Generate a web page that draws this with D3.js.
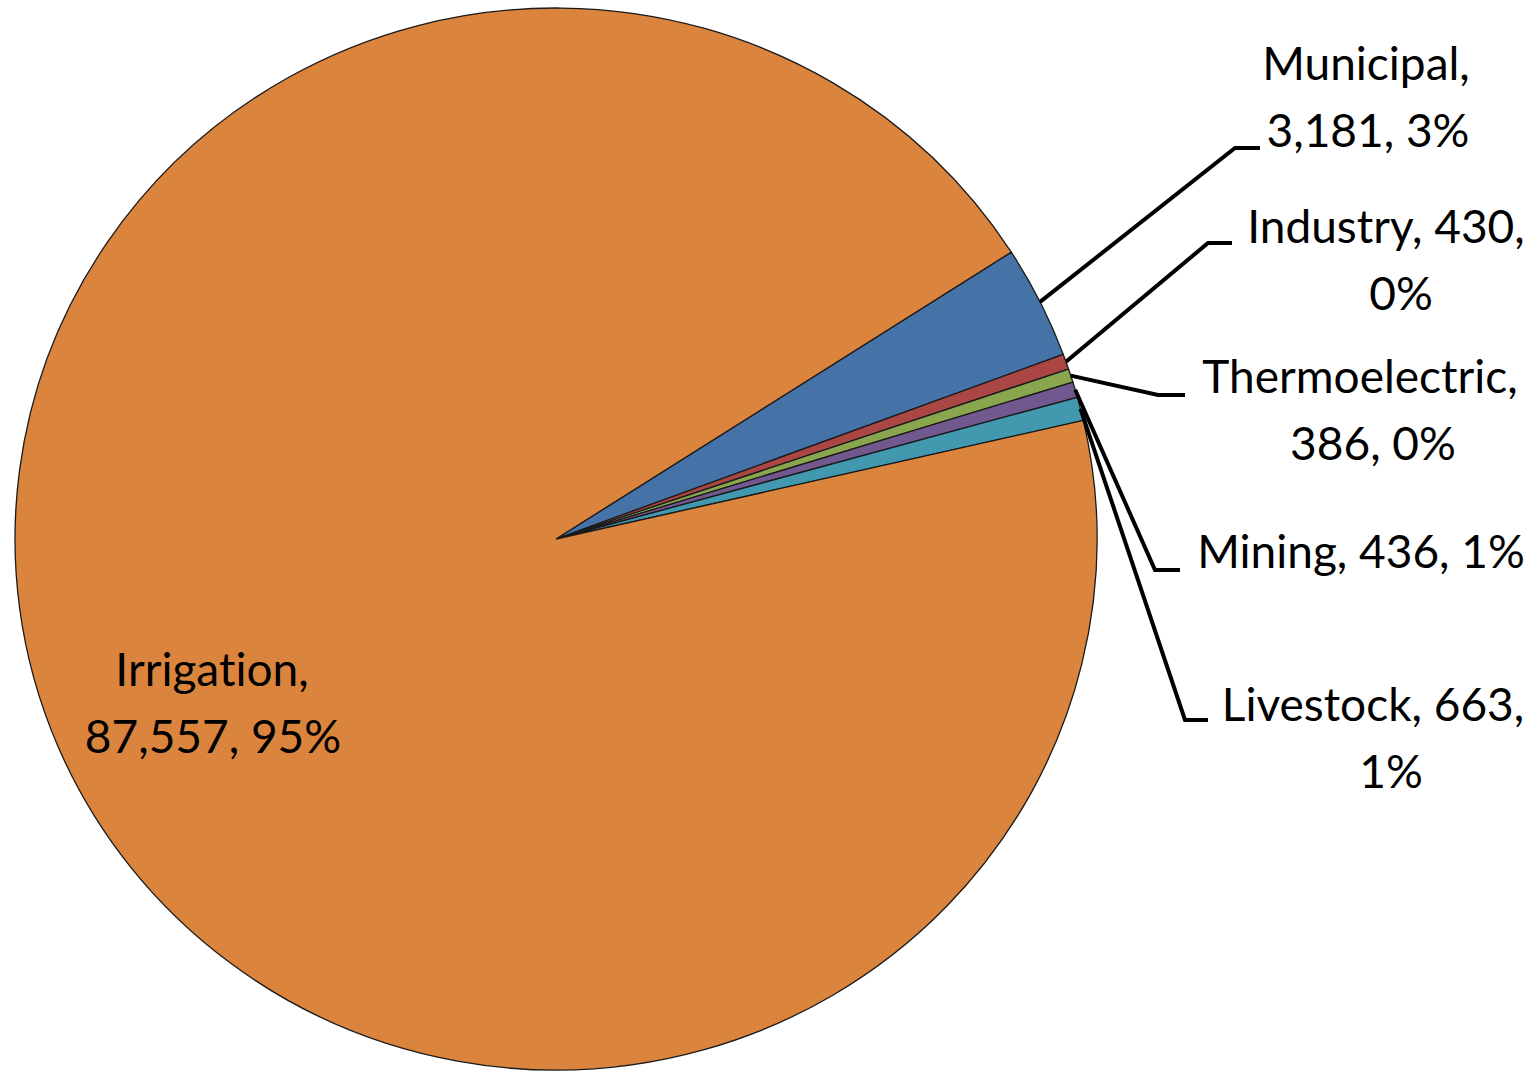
<!DOCTYPE html>
<html>
<head>
<meta charset="utf-8">
<script src="https://cdn.jsdelivr.net/npm/d3@7"></script>
<style>
  body { margin: 0; background: #fff; }
  svg { display: block; }
  .lbl { font-family: Lato, "Open Sans", sans-serif; font-size: 46px; fill: #000; font-variant-ligatures: none; }
</style>
</head>
<body>
<div id="chart"></div>
<script>
// water use by sector
const categories = ["Municipal", "Industry", "Thermoelectric", "Mining", "Livestock", "Irrigation"];
const values = [3181, 430, 386, 436, 663, 87557];
const percentLabels = ["3%", "0%", "0%", "1%", "1%", "95%"];
const colors = ["#4572A7", "#AA4643", "#89A54E", "#71588F", "#4198AF", "#DB843D"];

// label layout: line breaks + positions
const labelLines = [
  ["Municipal,", "3,181, 3%"],
  ["Industry, 430,", "0%"],
  ["Thermoelectric,", "386, 0%"],
  ["Mining, 436, 1%"],
  ["Livestock, 663,", "1%"],
  ["Irrigation,", "87,557, 95%"]
];
const labelX = [[1366, 1368], [1386, 1401], [1360, 1373], [1361], [1373, 1391], [212, 213]];
const labelY = [80, 243, 393, 568, 721, 686];
const elbow = [[1235, 148, 1260], [1208, 243, 1232], [1158, 395, 1185], [1155, 570, 1180], [1185, 720, 1208], null];

const W = 1537, H = 1073;
const cx = 556, cy = 539, r = 541, ry = 531;

const svg = d3.select("#chart").append("svg").attr("width", W).attr("height", H);

const pie = d3.pie().sort(null).value(d => d)
  .startAngle(57.3 * Math.PI / 180)
  .endAngle(57.3 * Math.PI / 180 + 2 * Math.PI);
const arcs = pie(values);
const arc = d3.arc().innerRadius(0).outerRadius(r);

const g = svg.append("g").attr("transform", `translate(${cx},${cy}) scale(1,${ry / r})`);
g.selectAll("path").data(arcs).enter().append("path")
  .attr("d", arc)
  .attr("fill", (d, i) => colors[i])
  .attr("stroke", "#1a1a1a")
  .attr("stroke-width", 1.3)
  .attr("vector-effect", "non-scaling-stroke");

// leader lines
arcs.forEach((d, i) => {
  if (!elbow[i]) return;
  const a = (d.startAngle + d.endAngle) / 2;
  const x0 = cx + r * Math.sin(a), y0 = cy - ry * Math.cos(a);
  const e = elbow[i];
  svg.append("path")
    .attr("d", d3.line()([[x0, y0], [e[0], e[1]], [e[2], e[1]]]))
    .attr("fill", "none").attr("stroke", "#000").attr("stroke-width", 4);
});

// labels
labelLines.forEach((lines, i) => {
  lines.forEach((t, j) => {
    svg.append("text").attr("class", "lbl")
      .attr("x", labelX[i][j]).attr("y", labelY[i] + j * 67)
      .attr("text-anchor", "middle")
      .text(t);
  });
});
</script>
</body>
</html>
